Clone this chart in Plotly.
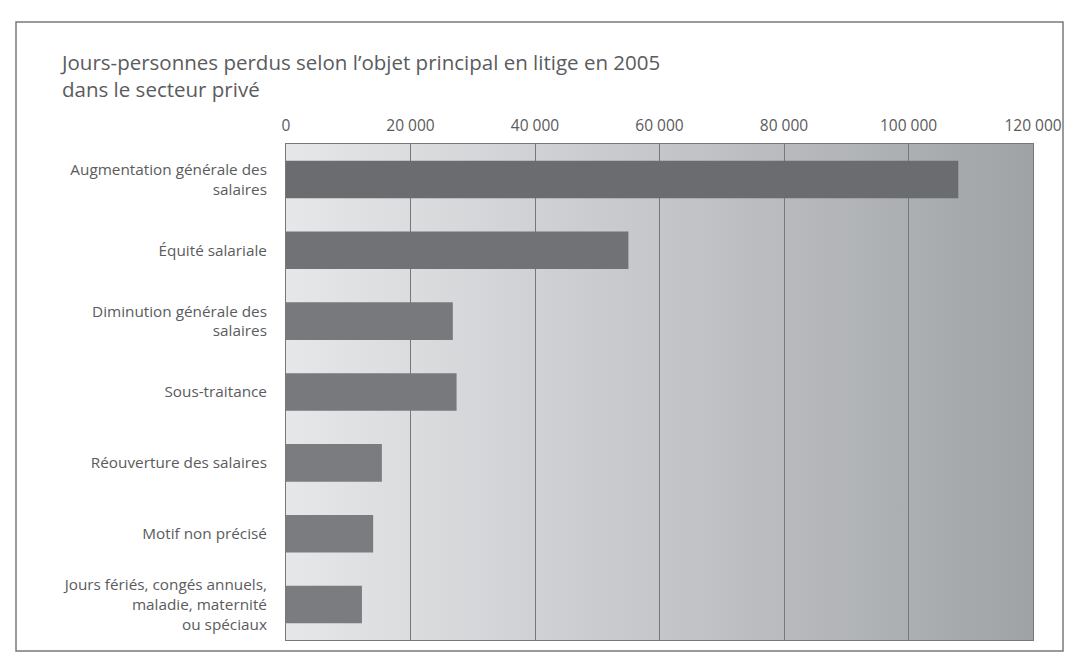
import base64
import plotly.graph_objects as go

categories = [
    "Augmentation générale des<br>salaires",
    "Équité salariale",
    "Diminution générale des<br>salaires",
    "Sous-traitance",
    "Réouverture des salaires",
    "Motif non précisé",
    "Jours fériés, congés annuels,<br>maladie, maternité<br>ou spéciaux",
]
jours_perdus = [108000, 55000, 26800, 27400, 15400, 14000, 12200]
tick_vals = [0, 20000, 40000, 60000, 80000, 100000, 120000]

title_text = "Jours-personnes perdus selon l’objet principal en litige en 2005<br>dans le secteur privé"

bar_colors = ["#6a6c6f", "#707275", "#77797c", "#77797c", "#7a7c7f", "#7a7c7f", "#7a7c7f"]

W, H = 1065, 663
ML, MR, MT, MB = 286, 32, 144, 23

svg = ('<svg xmlns="http://www.w3.org/2000/svg" width="200" height="100" preserveAspectRatio="none">'
       '<defs><linearGradient id="g" x1="0" y1="0" x2="1" y2="0">'
       '<stop offset="0" stop-color="#e6e7e9"/><stop offset="0.5" stop-color="#c4c6c9"/>'
       '<stop offset="1" stop-color="#a0a3a6"/></linearGradient></defs>'
       '<rect width="200" height="100" fill="url(#g)"/></svg>')
bg_src = "data:image/svg+xml;base64," + base64.b64encode(svg.encode()).decode()

fig = go.Figure(go.Bar(
    x=jours_perdus, y=categories, orientation="h",
    marker=dict(color=bar_colors, line=dict(width=0)),
    hoverinfo="x+y",
))

font_fam = "Open Sans, Lato, sans-serif"
txt_col = "#5a5b5d"
plot_bottom = H - MB
fig.update_layout(
    width=W, height=H,
    margin=dict(l=ML, r=MR, t=MT, b=MB, autoexpand=False),
    paper_bgcolor="white",
    plot_bgcolor="rgba(0,0,0,0)",
    separators=", ",
    bargap=0.47,
    showlegend=False,
    font=dict(family=font_fam, color=txt_col),
    title=dict(text=title_text, x=62 / W, xref="container", xanchor="left",
               y=1 - 70 / H, yref="container", yanchor="top",
               font=dict(size=20.5, color=txt_col, family=font_fam, weight=500)),
    images=[dict(source=bg_src, xref="paper", yref="paper", x=0, y=1, sizex=1, sizey=1,
                 xanchor="left", yanchor="top", sizing="stretch", layer="below")],
    shapes=[dict(type="rect", xref="paper", yref="paper", xsizemode="pixel", ysizemode="pixel",
                 xanchor=0, yanchor=0, x0=16 - ML, x1=1063 - ML, y0=plot_bottom - 651, y1=plot_bottom - 22,
                 line=dict(color="#7a7a7a", width=1.5), fillcolor="rgba(0,0,0,0)", layer="below")],
)
fig.update_xaxes(
    side="top", range=[0, 120000], tickvals=tick_vals, tickformat=",d",
    automargin=False,
    showgrid=True, gridcolor="#74777b", gridwidth=1, zeroline=False,
    showline=True, linecolor="#74777b", linewidth=1, mirror=True,
    ticks="outside", ticklen=6, tickcolor="rgba(0,0,0,0)",
    ticklabeloverflow="allow",
    tickfont=dict(size=15.5, color=txt_col, weight=500),
)
fig.update_yaxes(
    autorange="reversed", showgrid=False, automargin=False,
    showline=True, linecolor="#74777b", linewidth=1, mirror=True,
    ticks="outside", ticklen=15, tickcolor="rgba(0,0,0,0)",
    tickfont=dict(size=15.3, color=txt_col, weight=500),
)

fig.write_html("out.html", config={"displayModeBar": False},
               post_script="document.body.style.margin='0';document.body.style.overflow='hidden';")
